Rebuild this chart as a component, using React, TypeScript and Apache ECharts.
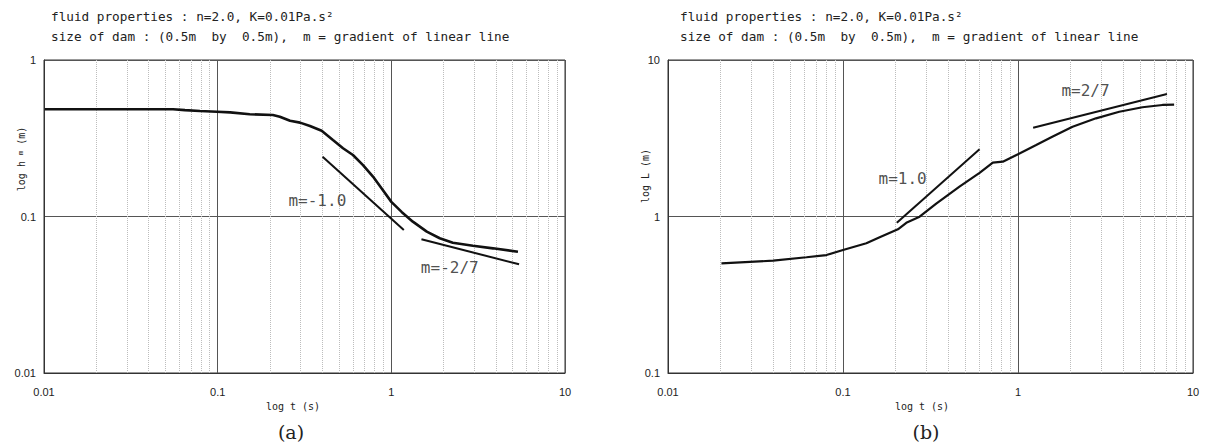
import React, { useEffect, useRef } from "react";
import * as echarts from "echarts";

// (a) maximum height h_m vs time
const hmTime = [0.0101, 0.0553, 0.0648, 0.079, 0.099, 0.118, 0.153, 0.208, 0.228, 0.261, 0.298, 0.34, 0.397, 0.461, 0.527, 0.601, 0.687, 0.784, 0.88, 1.0, 1.146, 1.33, 1.6, 1.9, 2.26, 2.95, 3.85, 5.36];
const hmValues = [0.484, 0.484, 0.478, 0.472, 0.467, 0.463, 0.45, 0.445, 0.434, 0.409, 0.398, 0.379, 0.353, 0.308, 0.273, 0.247, 0.213, 0.18, 0.151, 0.124, 0.107, 0.0927, 0.08, 0.0726, 0.068, 0.065, 0.0626, 0.0596];
const hmFit1 = [[0.402, 0.241], [1.18, 0.082]];
const hmFit2 = [[1.49, 0.0715], [5.44, 0.0495]];

// (b) front position L vs time
const lTime = [0.0202, 0.0399, 0.0618, 0.0804, 0.1, 0.136, 0.162, 0.206, 0.23, 0.274, 0.341, 0.463, 0.603, 0.718, 0.819, 1.02, 1.27, 1.58, 2.05, 2.79, 3.79, 5.14, 6.69, 7.8];
const lValues = [0.502, 0.522, 0.549, 0.567, 0.611, 0.674, 0.736, 0.828, 0.912, 0.997, 1.21, 1.55, 1.9, 2.21, 2.24, 2.53, 2.86, 3.24, 3.75, 4.24, 4.67, 4.99, 5.16, 5.18];
const lFit1 = [[0.203, 0.912], [0.603, 2.69]];
const lFit2 = [[1.22, 3.69], [7.1, 6.06]];

const minorTicks = [0.02, 0.03, 0.04, 0.05, 0.06, 0.07, 0.08, 0.09, 0.2, 0.3, 0.4, 0.5, 0.6, 0.7, 0.8, 0.9, 2, 3, 4, 5, 6, 7, 8, 9];

const labelsA = [
  { text: "m=-1.0", t: 0.375, v: 0.126 },
  { text: "m=-2/7", t: 2.17, v: 0.0475 },
];
const labelsB = [
  { text: "m=1.0", t: 0.219, v: 1.74 },
  { text: "m=2/7", t: 2.43, v: 6.34 },
];

const titleLine1 = "fluid properties : n=2.0, K=0.01Pa.s²";
const titleLine2 = "size of dam : (0.5m  by  0.5m),  m = gradient of linear line";

const MONO = "'DejaVu Sans Mono', monospace";

function fmt(v: number) {
  return String(Number(v.toPrecision(3)));
}

function xAxisCfg(idx: number) {
  return {
    type: "log",
    logBase: 10,
    gridIndex: idx,
    min: 0.01,
    max: 10,
    axisLine: { show: true, lineStyle: { color: "#333", width: 1 } },
    axisTick: { show: false },
    axisLabel: { fontSize: 11, margin: 13, color: "#222", fontFamily: "'Liberation Sans', sans-serif", formatter: fmt },
    splitLine: { show: true, lineStyle: { color: "#555", width: 1 } },
  };
}

function yAxisCfg(idx: number, min: number, max: number) {
  return {
    type: "log",
    logBase: 10,
    gridIndex: idx,
    min,
    max,
    axisLine: { show: true, lineStyle: { color: "#333", width: 1 } },
    axisTick: { show: false },
    axisLabel: { fontSize: 11, margin: 8, color: "#222", fontFamily: "'Liberation Sans', sans-serif", formatter: fmt },
    splitLine: { show: true, lineStyle: { color: "#555", width: 1 } },
  };
}

function minorSeries(idx: number) {
  return {
    type: "line",
    xAxisIndex: idx,
    yAxisIndex: idx,
    data: [],
    silent: true,
    markLine: {
      silent: true,
      symbol: ["none", "none"],
      label: { show: false },
      lineStyle: { type: "dotted", color: "#bdbdbd", width: 1 },
      data: minorTicks.map((t) => ({ xAxis: t })),
    },
  };
}

function lineSeries(idx: number, data: number[][], width: number) {
  return {
    type: "line",
    xAxisIndex: idx,
    yAxisIndex: idx,
    data,
    showSymbol: false,
    symbol: "none",
    lineStyle: { color: "#111", width },
    z: 5,
  };
}

function labelSeries(idx: number, items: { text: string; t: number; v: number }[]) {
  return {
    type: "scatter",
    xAxisIndex: idx,
    yAxisIndex: idx,
    symbolSize: 0,
    data: items.map((it) => ({ value: [it.t, it.v], name: it.text })),
    label: {
      show: true,
      position: "inside",
      formatter: (p: any) => p.name,
      fontSize: 16,
      color: "#222",
      fontFamily: MONO,
    },
    z: 6,
  };
}

export default function App() {
  const ref = useRef<HTMLDivElement>(null);
  useEffect(() => {
    if (!ref.current) return;
    const chart = echarts.init(ref.current, undefined, { renderer: "svg" });
    const hmData = hmTime.map((t, i) => [t, hmValues[i]]);
    const lData = lTime.map((t, i) => [t, lValues[i]]);
    const titleStyle = { fontSize: 12.7, fill: "#222", fontFamily: MONO };
    const nameStyle = { fontSize: 10, fill: "#222", fontFamily: MONO, align: "center", verticalAlign: "middle" };
    const capStyle = { fontSize: 19, fill: "#222", fontFamily: "'DejaVu Serif', serif", align: "center", verticalAlign: "middle" };
    chart.setOption({
      animation: false,
      backgroundColor: "#fff",
      grid: [
        { left: 44, right: 646, top: 60, bottom: 70, show: true, borderColor: "#333", borderWidth: 1 },
        { left: 668, right: 18, top: 60, bottom: 70, show: true, borderColor: "#333", borderWidth: 1 },
      ],
      xAxis: [xAxisCfg(0), xAxisCfg(1)],
      yAxis: [yAxisCfg(0, 0.01, 1), yAxisCfg(1, 0.1, 10)],
      series: [
        minorSeries(0),
        minorSeries(1),
        lineSeries(0, hmData, 2.6),
        lineSeries(0, hmFit1, 2),
        lineSeries(0, hmFit2, 2),
        lineSeries(1, lData, 2.2),
        lineSeries(1, lFit1, 2),
        lineSeries(1, lFit2, 2),
        labelSeries(0, labelsA),
        labelSeries(1, labelsB),
      ],
      graphic: [
        { type: "text", left: 51, top: 10, style: { ...titleStyle, text: titleLine1 } },
        { type: "text", left: 51, top: 30, style: { ...titleStyle, text: titleLine2 } },
        { type: "text", left: 680, top: 10, style: { ...titleStyle, text: titleLine1 } },
        { type: "text", left: 680, top: 30, style: { ...titleStyle, text: titleLine2 } },
        {
          type: "text",
          x: 21,
          y: 159,
          rotation: Math.PI / 2,
          style: {
            ...nameStyle,
            text: "log h {s|m} (m)",
            rich: { s: { fontSize: 7, fill: "#222", fontFamily: MONO } },
          },
        },
        { type: "text", x: 645, y: 176, rotation: Math.PI / 2, style: { ...nameStyle, text: "log L (m)" } },
        { type: "text", x: 293, y: 406, style: { ...nameStyle, text: "log t (s)" } },
        { type: "text", x: 922, y: 406, style: { ...nameStyle, text: "log t (s)" } },
        { type: "text", x: 291, y: 432, style: { ...capStyle, text: "(a)" } },
        { type: "text", x: 926, y: 432, style: { ...capStyle, text: "(b)" } },
      ],
    });
    return () => chart.dispose();
  }, []);
  return <div ref={ref} style={{ position: "fixed", left: 0, top: 0, width: 1211, height: 443 }} />;
}
